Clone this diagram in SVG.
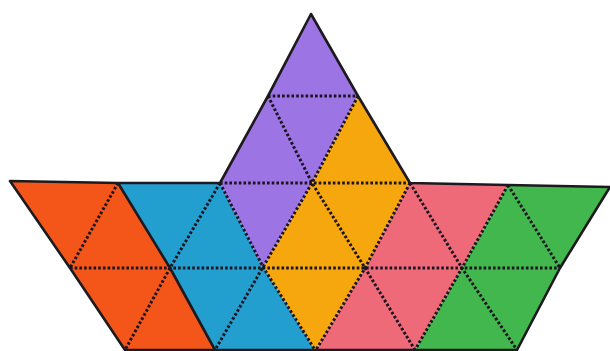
<svg xmlns="http://www.w3.org/2000/svg" width="610" height="351" viewBox="0 0 610 351">
<style>
.piece{stroke:none}
.dot{fill:none;stroke:#1a1420;stroke-width:3;stroke-dasharray:2.6 2.1}
.solid{fill:none;stroke:#1c1a1e;stroke-width:2.6;stroke-linejoin:round}
</style>
<rect width="610" height="351" fill="#ffffff"/>
<g id="orange"><polygon class="piece" fill="#f4561a" points="10,181 118,183 170,268 215,350 125,350 70,268"/></g>
<g id="blue"><polygon class="piece" fill="#239fcf" points="118,183 220,183 263,267 315,350 215,350 170,268"/></g>
<g id="purple"><polygon class="piece" fill="#9d74e4" points="311,14 358,96 312,183 263,267 220,183 268,96"/></g>
<g id="yellow"><polygon class="piece" fill="#f6a70e" points="358,96 410,183 365,268 316,350 315,350 263,267 312,183"/></g>
<g id="pink"><polygon class="piece" fill="#ee6a78" points="410,183 508,185 462,268 415,350 316,350 365,268"/></g>
<g id="green"><polygon class="piece" fill="#41b74d" points="508,185 610,187 560,268 517,350 415,350 462,268"/></g>
<g id="grid-lines">
<line class="dot" x1="268" y1="96" x2="358" y2="96"/>
<line class="dot" x1="220" y1="183" x2="410" y2="183"/>
<line class="dot" x1="70" y1="268" x2="560" y2="268"/>
<line class="dot" x1="118" y1="183" x2="70" y2="268"/>
<line class="dot" x1="170" y1="268" x2="125" y2="350"/>
<line class="dot" x1="220" y1="183" x2="170" y2="268"/>
<polyline class="dot" points="358,96 312,183 263,267 215,350"/>
<polyline class="dot" points="410,183 365,268 316,350"/>
<polyline class="dot" points="508,185 462,268 415,350"/>
<polyline class="dot" points="268,96 312,183 365,268 415,350"/>
<polyline class="dot" points="220,183 263,267 315,350"/>
<polyline class="dot" points="410,183 462,268 517,350"/>
<line class="dot" x1="508" y1="185" x2="560" y2="268"/>
<polyline class="solid" points="118,183 170,268 215,350"/>
<polygon class="solid" points="10,181 118,183 220,183 268,96 311,14 358,96 410,183 508,185 610,187 560,268 517,350 125,350 70,268"/>
</g>
</svg>
